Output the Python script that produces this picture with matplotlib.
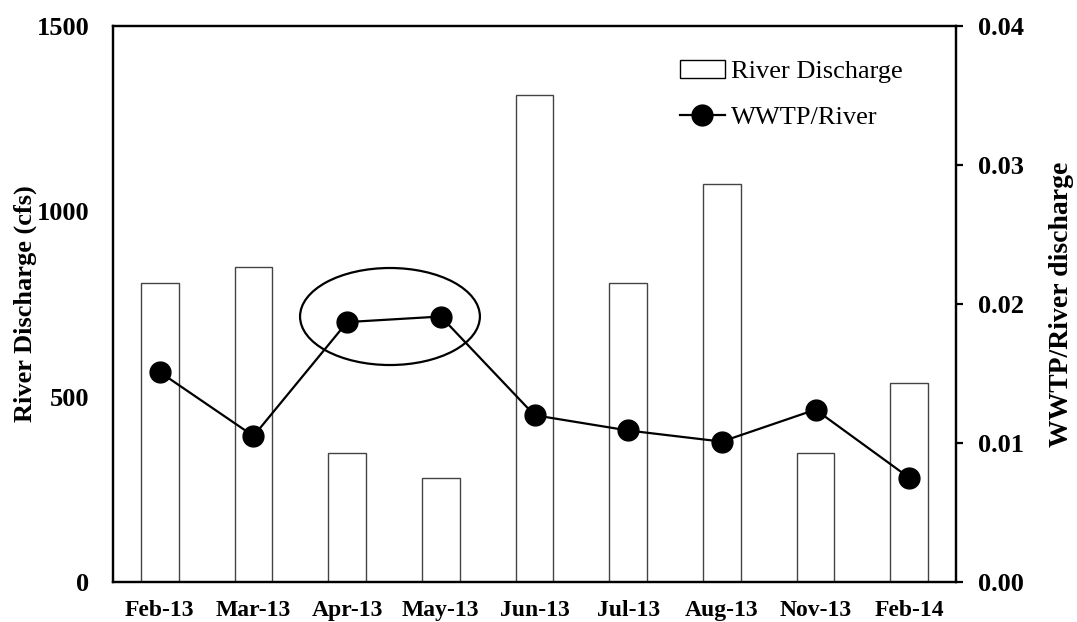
import matplotlib
matplotlib.use("Agg")
import matplotlib.pyplot as plt
from matplotlib.patches import Ellipse, Patch
from matplotlib.lines import Line2D

plt.rcParams['font.family'] = ['Liberation Serif', 'DejaVu Serif']

# ---- data ----
months = ['Feb-13', 'Mar-13', 'Apr-13', 'May-13', 'Jun-13',
          'Jul-13', 'Aug-13', 'Nov-13', 'Feb-14']
discharge = [806, 851, 347, 281, 1313, 808, 1073, 347, 537]          # cfs
wwtp_ratio = [0.0151, 0.0105, 0.0187, 0.0191, 0.0120,
              0.0109, 0.0101, 0.0124, 0.0075]
left_ticks = [0, 500, 1000, 1500]
right_ticks = [0.00, 0.01, 0.02, 0.03, 0.04]

fig = plt.figure(figsize=(10.77, 6.22), dpi=100)
ax = fig.add_axes([113 / 1077, 1 - 582 / 622, 843 / 1077, 556 / 622])
ax2 = ax.twinx()

x = list(range(len(months)))
ax.bar(x, discharge, width=0.4, color='white', edgecolor='#444444',
       linewidth=1.0, zorder=2)
ax.set_xlim(-0.5, len(months) - 0.5)
ax.set_ylim(0, 1500)
ax.set_yticks(left_ticks)
ax.set_xticks(x)
ax.set_xticklabels(months)

ax2.plot(x, wwtp_ratio, color='black', linewidth=1.6, marker='o',
         markersize=15, zorder=3)
ax2.set_ylim(0, 0.04)
ax2.set_yticks(right_ticks)
ax2.set_yticklabels([f'{v:.2f}' for v in right_ticks])

# circle around the Apr/May points
ax2.add_patch(Ellipse((2.457, 0.0191), 1.92, 0.00698, fill=False,
                      edgecolor='black', linewidth=1.6, zorder=4))

for a in (ax, ax2):
    for s in a.spines.values():
        s.set_linewidth(1.6)

ax.tick_params(axis='y', length=0, pad=17, labelsize=19)
ax.tick_params(axis='x', length=0, pad=13, labelsize=17)
ax2.tick_params(axis='y', direction='out', length=5, width=1.6, pad=11,
                labelsize=19)
for lab in ax.get_xticklabels() + ax.get_yticklabels() + ax2.get_yticklabels():
    lab.set_fontweight('bold')

ax.set_ylabel('River Discharge (cfs)', fontsize=19, fontweight='bold',
              labelpad=0)
ax2.set_ylabel('WWTP/River discharge', fontsize=20, fontweight='bold',
               labelpad=18)

handles = [Patch(facecolor='white', edgecolor='black', linewidth=1.0),
           Line2D([], [], color='black', linewidth=1.6, marker='o',
                  markersize=15)]
ax2.legend(handles, ['River Discharge', 'WWTP/River'], loc='upper left',
           bbox_to_anchor=((680 - 113) / 843, 1 - (60 - 26) / 556),
           frameon=False, fontsize=19, handlelength=1.7, handletextpad=0.25,
           labelspacing=0.85, borderpad=0, borderaxespad=0)

fig.savefig('out.png', dpi=100)
